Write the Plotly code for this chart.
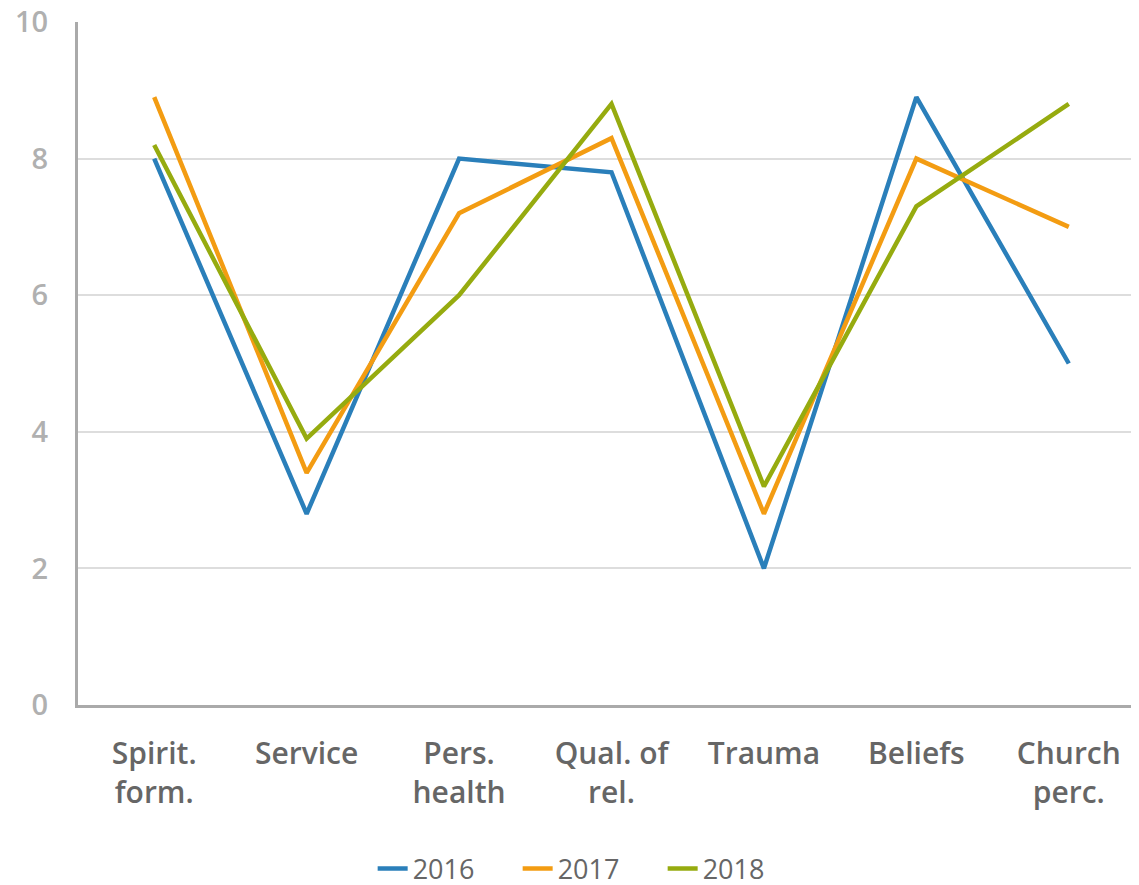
import plotly.graph_objects as go

categories = ["Spirit.<br>form.", "Service", "Pers.<br>health", "Qual. of<br>rel.",
              "Trauma", "Beliefs", "Church<br>perc."]
y2016 = [8.0, 2.8, 8.0, 7.8, 2.0, 8.9, 5.0]
y2017 = [8.9, 3.4, 7.2, 8.3, 2.8, 8.0, 7.0]
y2018 = [8.2, 3.9, 6.0, 8.8, 3.2, 7.3, 8.8]

series = [("2016", y2016, "#2a7fba"), ("2017", y2017, "#f39c12"), ("2018", y2018, "#96ab0f")]

fig = go.Figure()
for name, vals, col in series:
    fig.add_trace(go.Scatter(
        x=categories, y=vals, name=name, mode="lines",
        line=dict(color=col, width=4.5)
    ))

# page body has an 8px margin, so the figure is offset a little
fig.update_layout(
    width=1137, height=877,
    margin=dict(l=70, r=0, t=14, b=180, autoexpand=False),
    paper_bgcolor="white", plot_bgcolor="white",
    font=dict(family="Open Sans, Noto Sans, sans-serif", color="#666666"),
    showlegend=True,
    legend=dict(orientation="h", x=0.48, xanchor="center", y=-0.24, yanchor="middle",
                font=dict(size=27, color="#666666"), itemwidth=30,
                entrywidth=100, entrywidthmode="pixels", traceorder="normal"),
)

fig.update_xaxes(
    type="category", range=[-0.5, 6.5], automargin=False,
    showline=True, linecolor="#aaaaaa", linewidth=3,
    showgrid=False, ticks="", ticklabelstandoff=20,
    tickfont=dict(size=30, color="#666666", weight=600),
)
fig.update_yaxes(
    range=[0, 10], tickvals=[0, 2, 4, 6, 8, 10], automargin=False,
    showline=True, linecolor="#aaaaaa", linewidth=3,
    showgrid=True, gridcolor="#dddddd", gridwidth=2,
    zeroline=False, ticks="", ticklabelstandoff=21,
    ticklabeloverflow="allow",
    tickfont=dict(size=29, color="#b0b0b0", weight=600),
)

fig.write_html("out.html")
